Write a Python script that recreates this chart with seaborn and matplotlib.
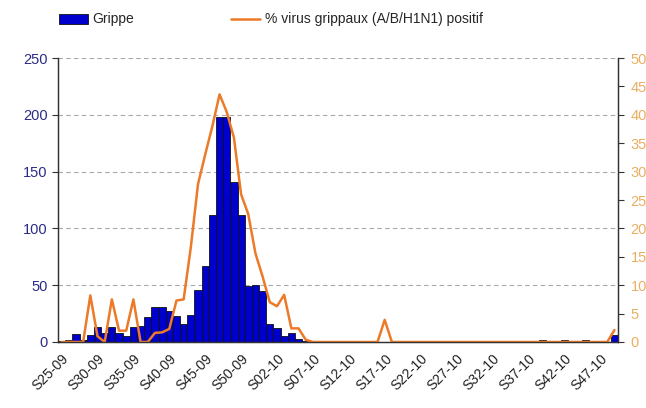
"""Grippe cases per week with share of positive influenza samples."""

import matplotlib

matplotlib.use("Agg")
import matplotlib.pyplot as plt
import numpy as np
import pandas as pd
import seaborn as sns
from matplotlib.lines import Line2D
from matplotlib.patches import Patch
from matplotlib.ticker import MultipleLocator

# weeks S25-09 .. S53-09, then S01-10 .. S49-10
WEEKS_2009 = list(range(25, 54))
WEEKS_2010 = list(range(1, 50))

GRIPPE = [
    1, 2, 7, 2, 6, 13, 8, 13, 8, 5,
    13, 14, 22, 31, 31, 27, 23, 16, 24, 46,
    67, 112, 198, 198, 141, 112, 49, 50, 45, 16,
    12, 5, 8, 3, 1, 0, 1, 0, 0, 1,
    0, 0, 1, 0, 0, 0, 0, 0, 1, 0,
    0, 1, 0, 0, 0, 0, 0, 0, 0, 0,
    0, 1, 0, 0, 0, 1, 0, 2, 0, 0,
    2, 0, 0, 2, 0, 0, 0, 6,
]

PCT_POSITIVE = [
    0, 0, 0, 0, 8.2, 1, 0, 7.5, 2, 2,
    7.5, 0, 0, 1.6, 1.7, 2.3, 7.3, 7.5, 16.7, 27.8,
    33, 38, 43.6, 40.5, 36, 26, 22.5, 15.6, 11.5, 7,
    6.3, 8.3, 2.4, 2.4, 0.4, 0, 0, 0, 0, 0,
    0, 0, 0, 0, 0, 3.9, 0, 0, 0, 0,
    0, 0, 0, 0, 0, 0, 0, 0, 0, 0,
    0, 0, 0, 0, 0, 0, 0, 0, 0, 0,
    0, 0, 0, 0, 0, 0, 0, 2.1,
]

BAR_COLOR = "#0000CC"
LINE_COLOR = "#EC7A28"
LEFT_TXT = "#2B2B86"
RIGHT_TXT = "#EBAE62"


def week_labels() -> list[str]:
    return [f"S{w:02d}-09" for w in WEEKS_2009] + [f"S{w:02d}-10" for w in WEEKS_2010]


def main() -> None:
    sns.set_theme(style="white")
    plt.rcParams["font.family"] = ["Liberation Sans", "DejaVu Sans"]

    labels = week_labels()
    df = pd.DataFrame({"week": labels, "grippe": GRIPPE, "pct": PCT_POSITIVE})
    df["pos"] = np.arange(len(df))

    fig = plt.figure(figsize=(6.46, 4.08), dpi=100)
    ax = fig.add_axes([0.0898, 0.1618, 0.8669, 0.696])

    sns.barplot(
        data=df, x="week", y="grippe", color=BAR_COLOR, width=1.0,
        edgecolor="#111111", linewidth=0.6, saturation=1, ax=ax,
    )
    n = len(df)
    ax.set_xlim(-0.5, n - 0.5)
    ax.set_ylim(0, 250)
    ax.yaxis.set_major_locator(MultipleLocator(50))
    ax.set_xlabel("")
    ax.set_ylabel("")
    ax.grid(axis="y", linestyle=(0, (4, 3)), color="#A8A8A8", linewidth=0.8)
    ax.set_axisbelow(True)

    ax.set_xticks(np.arange(0, n, 5))
    ax.set_xticklabels(labels[::5], rotation=45, ha="right", rotation_mode="anchor",
                       fontsize=10, color="#222222")
    ax.set_xticks(np.arange(-0.5, n, 1), minor=True)
    ax.tick_params(axis="x", which="major", length=0, pad=7)
    ax.tick_params(axis="x", which="minor", length=4, width=0.8, color="#333333", direction="out")
    ax.tick_params(axis="y", length=4, width=0.8, color="#333333", direction="out",
                   labelsize=10.5, labelcolor=LEFT_TXT, left=True)

    ax2 = ax.twinx()
    sns.lineplot(data=df, x="pos", y="pct", color=LINE_COLOR, linewidth=1.8, ax=ax2)
    ax2.set_ylim(0, 50)
    ax2.set_xlim(-0.5, n - 0.5)
    ax2.yaxis.set_major_locator(MultipleLocator(5))
    ax2.set_ylabel("")
    ax2.set_xlabel("")
    ax2.tick_params(axis="y", length=4, width=0.8, color="#333333", direction="out",
                    labelsize=10.5, labelcolor=RIGHT_TXT, right=True, pad=5)

    for a in (ax, ax2):
        a.spines["top"].set_visible(False)
        for side in ("left", "bottom", "right"):
            a.spines[side].set_color("#333333")
            a.spines[side].set_linewidth(0.9)

    handles = [
        Patch(facecolor=BAR_COLOR, edgecolor="#111111", linewidth=0.6),
        Line2D([], [], color=LINE_COLOR, linewidth=1.8),
    ]
    fig.legend(
        handles, ["Grippe", "% virus grippaux (A/B/H1N1) positif"],
        loc="upper left", bbox_to_anchor=(0.072, 1.0), ncol=2, frameon=False,
        fontsize=10, handlelength=2.1, handleheight=0.7, handletextpad=0.3,
        columnspacing=7.0,
    )

    fig.savefig("out.png", dpi=100)
    plt.close(fig)


if __name__ == "__main__":
    main()
